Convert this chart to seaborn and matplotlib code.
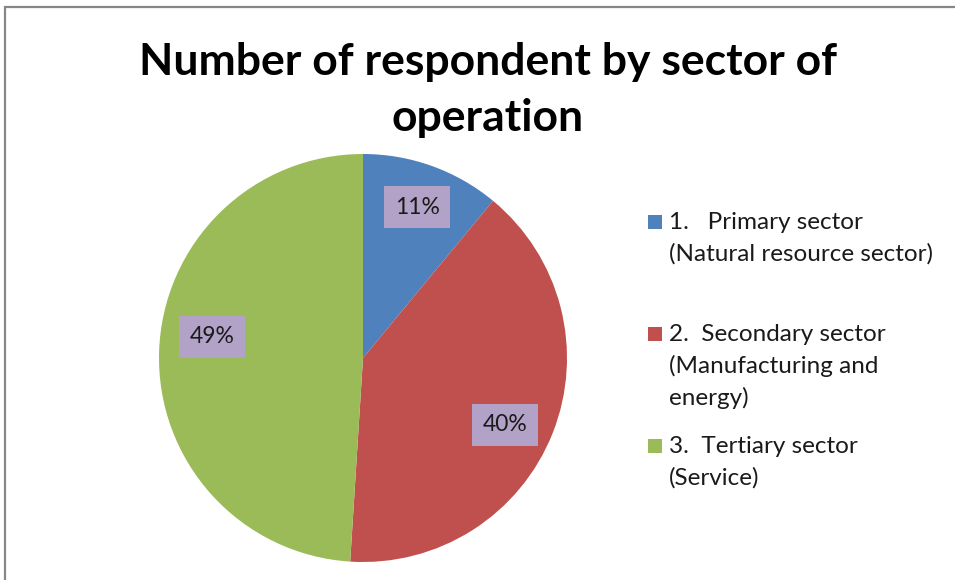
import matplotlib
matplotlib.use("Agg")
import matplotlib.pyplot as plt
from matplotlib.patches import Rectangle
import seaborn as sns

# Survey breakdown by sector of operation
sectors = [
    "1.   Primary sector\n(Natural resource sector)",
    "2.  Secondary sector\n(Manufacturing and\nenergy)",
    "3.  Tertiary sector\n(Service)",
]
shares = [11, 40, 49]
colors = ["#4F81BD", "#C0504D", "#9BBB59"]
title = "Number of respondent by sector of\noperation"

sns.set_theme(style="white")
plt.rcParams["font.family"] = ["Lato", "DejaVu Sans"]

W, H = 955, 580
fig = plt.figure(figsize=(W / 100, H / 100), dpi=100)
fig.patch.set_facecolor("white")

# outer chart frame
fig.add_artist(Rectangle((5 / W, -0.05), 1.2, 1 - 7 / H + 0.05,
                         transform=fig.transFigure, fill=False,
                         edgecolor="#878787", linewidth=1.6))

# pie area: centre (363, 358) px, radius 204 px
cx, cy, r = 363, 358, 204
ax = fig.add_axes([(cx - r) / W, (H - cy - r) / H, 2 * r / W, 2 * r / H])
wedges, texts, autotexts = ax.pie(
    shares, colors=colors, startangle=90, counterclock=False,
    autopct=lambda p: f"{p:.0f}%", pctdistance=0.77,
    wedgeprops=dict(linewidth=0),
    textprops=dict(fontsize=16.5, color="#1a1a1a"),
)
# best-fit placement of the percentage boxes inside each wedge
label_pos = [(0.265, 0.740), (0.696, -0.328), (-0.740, 0.103)]
for t, pos in zip(autotexts, label_pos):
    t.set_position(pos)
    t.set_bbox(dict(boxstyle="square,pad=0.45", facecolor="#B3A2C7",
                    edgecolor="none"))
ax.set_xlim(-1, 1)
ax.set_ylim(-1, 1)
ax.set_aspect("equal")
ax.axis("off")

fig.text(488 / W, 1 - 90 / H, title, ha="center", va="center",
         fontsize=32, fontweight="bold", color="black", linespacing=1.48)

# legend entries, one slot of 112 px each
slot_top = [222, 334, 446]
for y0, lab, col in zip(slot_top, sectors, colors):
    fig.add_artist(Rectangle((648 / W, 1 - (y0 + 7) / H), 14 / W, 14 / H,
                             transform=fig.transFigure, facecolor=col,
                             edgecolor="none"))
    fig.text(669 / W, 1 - (y0 - 10) / H, lab, ha="left", va="top",
             fontsize=17.5, color="#1a1a1a", linespacing=1.56)

fig.savefig("out.png", dpi=100)
